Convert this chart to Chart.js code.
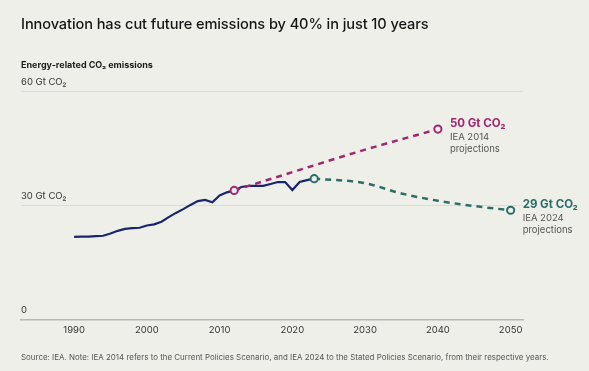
<!DOCTYPE html>
<html>
<head>
<meta charset="utf-8">
<script src="https://cdn.jsdelivr.net/npm/chart.js@4"></script>
<style>
  html, body { margin: 0; padding: 0; background: #efefea; }
  body { width: 589px; height: 371px; position: relative; overflow: hidden; font-family: Inter, "Noto Sans", sans-serif; }
  #wrap { position: absolute; left: 0; top: 0; width: 589px; height: 371px; }
  .title { position: absolute; left: 21px; top: 15px; font-size: 14.6px; font-weight: 500; color: #151515; letter-spacing: -0.1px; white-space: nowrap; }
  .ytitle { position: absolute; left: 21px; top: 59px; font-size: 9px; font-weight: 700; color: #1c1c1c; white-space: nowrap; }
  .source { position: absolute; left: 21px; top: 352px; font-size: 7.95px; color: #555; white-space: nowrap; }
</style>
</head>
<body>
<div id="wrap"><canvas id="chart" width="589" height="371"></canvas></div>
<div class="title">Innovation has cut future emissions by 40% in just 10 years</div>
<div class="ytitle">Energy-related CO₂ emissions</div>
<div class="source">Source: IEA. Note: IEA 2014 refers to the Current Policies Scenario, and IEA 2024 to the Stated Policies Scenario, from their respective years.</div>
<script>
// historical emissions (Gt CO2)
const histYears = [1990,1991,1992,1993,1994,1995,1996,1997,1998,1999,2000,2001,2002,2003,2004,2005,2006,2007,2008,2009,2010,2011,2012,2013,2014,2015,2016,2017,2018,2019,2020,2021,2022,2023]
const histValues = [21.7,21.8,21.8,21.9,22.0,22.6,23.3,23.8,24.0,24.1,24.7,25.0,25.7,26.9,28.0,29.0,30.1,31.1,31.4,30.8,32.6,33.4,33.9,34.8,35.1,35.1,35.1,35.6,36.1,36.1,34.0,36.1,36.6,37.0]

// IEA 2014 projections
const iea2014Years = [2012, 2020, 2030, 2040]
const iea2014Values = [33.9, 38.7, 44.6, 50.0]

// IEA 2024 projections
const iea2024Years = [2023, 2030, 2035, 2040, 2045, 2050]
const iea2024Values = [37.0, 35.8, 33.1, 31.2, 29.8, 28.7]

const xTicks = [1990, 2000, 2010, 2020, 2030, 2040, 2050]
const yTicks = [0, 30, 60]

const NAVY = '#1b2470'
const MAGENTA = '#a0286f'
const TEAL = '#2b6e69'
const BG = '#efefea'

function pts(xs, ys) {
    return xs.map((x, i) => ({ x: x, y: ys[i] }))
}
function endRadius(arr) {
    return arr.map((v, i) => (i === 0 || i === arr.length - 1) ? 3.6 : 0)
}

// labels next to projection end points
const endLabels = {
    id: 'endLabels',
    afterDatasetsDraw(chart) {
        const ctx = chart.ctx
        const xs = chart.scales.x, ys = chart.scales.y
        const items = [
            { year: iea2014Years[iea2014Years.length - 1], val: iea2014Values[iea2014Values.length - 1], color: MAGENTA, big: '50 Gt CO₂', l1: 'IEA 2014', l2: 'projections' },
            { year: iea2024Years[iea2024Years.length - 1], val: iea2024Values[iea2024Values.length - 1], color: TEAL, big: '29 Gt CO₂', l1: 'IEA 2024', l2: 'projections' }
        ]
        ctx.save()
        ctx.textBaseline = 'middle'
        ctx.textAlign = 'left'
        for (const it of items) {
            const px = xs.getPixelForValue(it.year) + 12
            const py = ys.getPixelForValue(it.val)
            ctx.fillStyle = it.color
            ctx.font = 'bold 11.5px Inter, "Noto Sans", sans-serif'
            ctx.fillText(it.big, px, py - 6)
            ctx.fillStyle = '#555'
            ctx.font = '9.5px Inter, "Noto Sans", sans-serif'
            ctx.fillText(it.l1, px, py + 8)
            ctx.fillText(it.l2, px, py + 20)
        }
        ctx.restore()
    }
}

const ctx = document.getElementById('chart').getContext('2d')
const chart = new Chart(ctx, {
    type: 'line',
    data: {
        datasets: [
            {
                label: 'IEA 2014',
                data: pts(iea2014Years, iea2014Values),
                borderColor: MAGENTA,
                borderWidth: 2.5,
                borderDash: [6, 5],
                cubicInterpolationMode: 'monotone',
                pointRadius: endRadius(iea2014Years),
                pointBackgroundColor: BG,
                pointBorderColor: MAGENTA,
                pointBorderWidth: 2
            },
            {
                label: 'IEA 2024',
                data: pts(iea2024Years, iea2024Values),
                borderColor: TEAL,
                borderWidth: 2.5,
                borderDash: [6, 5],
                cubicInterpolationMode: 'monotone',
                pointRadius: endRadius(iea2024Years),
                pointBackgroundColor: BG,
                pointBorderColor: TEAL,
                pointBorderWidth: 2
            },
            {
                label: 'Historical',
                data: pts(histYears, histValues),
                borderColor: NAVY,
                borderWidth: 2.2,
                tension: 0,
                pointRadius: 0
            }
        ]
    },
    options: {
        responsive: false,
        animation: false,
        layout: { padding: { left: 21, right: 66, top: 91, bottom: 30 } },
        plugins: { legend: { display: false }, tooltip: { enabled: false } },
        scales: {
            x: {
                type: 'linear',
                min: 1982.7,
                max: 2051.7,
                afterBuildTicks: (axis) => { axis.ticks = xTicks.map(v => ({ value: v })) },
                grid: { display: false, drawTicks: false },
                border: { display: true, color: '#b9b9b3', width: 1.5 },
                ticks: {
                    color: '#333',
                    padding: 5,
                    font: { size: 9.5, family: 'Inter, "Noto Sans", sans-serif' },
                    callback: (v) => String(v)
                }
            },
            y: {
                min: 0,
                max: 60,
                afterBuildTicks: (axis) => { axis.ticks = yTicks.map(v => ({ value: v })) },
                grid: { color: '#dcdcd6', lineWidth: 1, drawTicks: false },
                border: { display: false },
                ticks: {
                    mirror: true,
                    padding: 0,
                    labelOffset: -9,
                    color: '#333',
                    font: { size: 9.5, family: 'Inter, "Noto Sans", sans-serif' },
                    callback: (v) => v === 0 ? '0' : v + ' Gt CO₂'
                }
            }
        }
    },
    plugins: [endLabels]
})
</script>
</body>
</html>
